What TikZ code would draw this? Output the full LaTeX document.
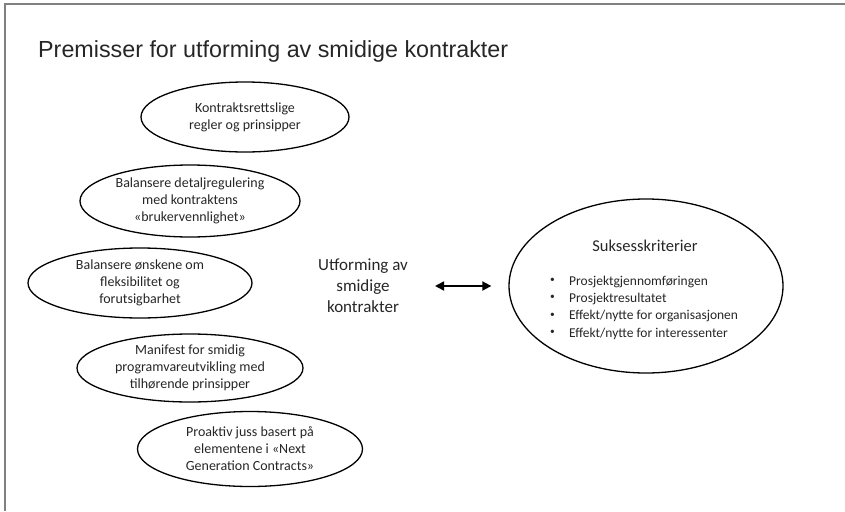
\documentclass[tikz,border=0pt]{standalone}
\usepackage{fontspec}
\setmainfont{Carlito}
\newfontfamily\arialf{Liberation Sans}
\usetikzlibrary{shapes.geometric,arrows.meta}
\newcommand{\sbul}{\makebox[19pt][l]{\raisebox{0.4ex}{\scalebox{0.7}{•}}}}
\begin{document}
\begin{tikzpicture}[x=1pt,y=-1pt,
  txt/.style={text=black!85},
  oval/.style={ellipse,draw,line width=1.3pt,inner sep=0pt,align=center,txt,
    font=\fontsize{14}{17}\selectfont},
  frameline/.style={line width=2pt,draw=black!50},
  dblarrow/.style={line width=1.8pt,{Triangle[length=9pt,width=9pt]}-{Triangle[length=9pt,width=9pt]}}
  ]
\useasboundingbox (0,0) rectangle (845,511);
\draw[frameline] (5,511) -- (5,4) -- (845,4);
\node[anchor=base west,txt,font=\arialf\fontsize{23.3}{27}\selectfont,inner sep=0pt] (title) at (38,57) {Premisser for utforming av smidige kontrakter};

\node[oval,minimum width=208pt,minimum height=70pt] (e1) at (245,117) {Kontraktsrettslige\\regler og prinsipper};
\node[oval,minimum width=220pt,minimum height=72pt] (e2) at (190,201) {Balansere detaljregulering\\med kontraktens\\«brukervennlighet»};
\node[oval,minimum width=224pt,minimum height=70pt] (e3) at (140,283) {Balansere ønskene om\\fleksibilitet og\\forutsigbarhet};
\node[oval,minimum width=226pt,minimum height=68pt] (e4) at (190,368) {Manifest for smidig\\programvareutvikling med\\tilhørende prinsipper};
\node[oval,minimum width=225pt,minimum height=75pt] (e5) at (250,449) {Proaktiv juss basert på\\elementene i «Next\\Generation Contracts»};

\node[txt,align=center,inner sep=0pt,font=\fontsize{17}{21}\selectfont] (c) at (363,286) {Utforming av\\smidige\\kontrakter};

\node[ellipse,draw,line width=1.3pt,minimum width=274pt,minimum height=174pt,inner sep=0pt] (s) at (646,286) {};
\node[txt,anchor=base,inner sep=0pt,font=\fontsize{16.5}{20}\selectfont] (stitle) at (645,251) {Suksesskriterier};
\node[txt,anchor=base west,align=left,inner sep=0pt,font=\fontsize{13.5}{17.4}\selectfont] (slist) at (550,337.2)
  {\sbul Prosjektgjennomføringen\\
   \sbul Prosjektresultatet\\
   \sbul Effekt/nytte for organisasjonen\\
   \sbul Effekt/nytte for interessenter};

\draw[dblarrow] ([xshift=27pt]c.east) -- ([xshift=-17pt]s.west);
\end{tikzpicture}
\end{document}
